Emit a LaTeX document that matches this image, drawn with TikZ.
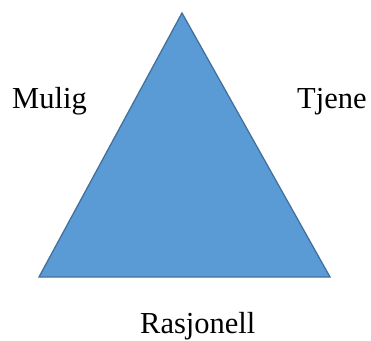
\documentclass[tikz,border=0pt]{standalone}
\usepackage{fontspec}
\setmainfont{Liberation Serif}
\definecolor{triFill}{HTML}{5B9BD5}
\definecolor{triLine}{HTML}{41719C}
\begin{document}
\begin{tikzpicture}[x=1pt,y=-1pt,
  label text/.style={font=\fontsize{30.5}{36}\selectfont, inner sep=0pt, anchor=base west}]
\useasboundingbox (0,0) rectangle (371,340);
% central triangle
\coordinate (apex) at (182,13);
\coordinate (bl) at (39,277);
\coordinate (br) at (330,277);
\filldraw[fill=triFill, draw=triLine, line width=1.3pt, line join=miter] (apex) -- (br) -- (bl) -- cycle;
% corner labels
\node[label text] (mulig) at (12,108) {Mulig};
\node[label text] (tjene) at (297,108) {Tjene};
\node[label text] (rasjonell) at (140,333) {Rasjonell};
\end{tikzpicture}
\end{document}
